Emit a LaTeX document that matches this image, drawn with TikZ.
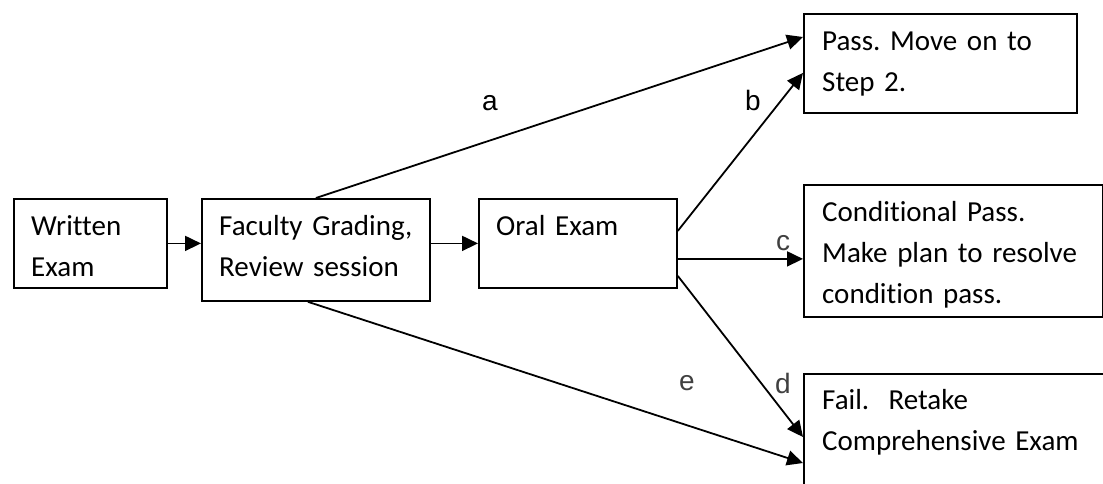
\documentclass[tikz,border=0pt]{standalone}
\usepackage{fontspec}
\setmainfont[Ligatures=NoCommon]{Carlito}
\newfontfamily\labelfont{Liberation Sans}
\usetikzlibrary{arrows.meta}
\definecolor{labgray}{HTML}{404040}
\frenchspacing
\tikzset{
  box/.style={draw, line width=1.8pt, anchor=north west, inner sep=0pt},
  boxtext/.style={anchor=base west, inner sep=0pt, text width=300pt, align=left,
    font=\fontsize{29}{41}\selectfont},
  flow/.style={-{Triangle[length=16pt,width=15pt]}, line width=1.8pt},
  lab/.style={font=\labelfont\fontsize{28}{32}\selectfont},
  labg/.style={lab, text=labgray}
}

\begin{document}
\begin{tikzpicture}[x=1pt, y=-1pt]
  \useasboundingbox (0,0) rectangle (1103,483);

  % boxes
  \node[box, minimum width=153pt, minimum height=89pt] (written) at (13,198) {};
  \node[box, minimum width=228pt, minimum height=102pt] (faculty) at (201,198) {};
  \node[box, minimum width=198pt, minimum height=89pt] (oral) at (478,198) {};
  \node[box, minimum width=273pt, minimum height=99pt] (pass) at (803,13) {};
  \node[box, minimum width=299pt, minimum height=132pt] (cond) at (803,184) {};
  \node[box, minimum width=320pt, minimum height=140pt] (fail) at (803,373) {};

  % box texts
  \node[boxtext] (writtentxt) at ([shift={(18pt,-37pt)}]written.north west) {Written\\Exam};
  \node[boxtext] (facultytxt) at ([shift={(18pt,-37pt)}]faculty.north west) {Faculty Grading,\\Review session};
  \node[boxtext] (oraltxt) at ([shift={(18pt,-37pt)}]oral.north west) {Oral Exam};
  \node[boxtext] (passtxt) at ([shift={(19pt,-37pt)}]pass.north west) {Pass. Move on to\\Step 2.};
  \node[boxtext] (condtxt) at ([shift={(19pt,-37pt)}]cond.north west) {Conditional Pass.\\Make plan to resolve\\condition pass.};
  \node[boxtext] (failtxt) at ([shift={(19pt,-36pt)}]fail.north west) {Fail.\ \ Retake\\Comprehensive Exam};

  % connectors
  \draw[flow] (written.east) -- (written.east -| faculty.west);
  \draw[flow] (faculty.east |- oral.west) -- (oral.west);
  \draw[flow] (faculty.north) -- ([yshift=-24pt]pass.north west);
  \draw[flow] ([yshift=12.5pt]oral.east) -- ([yshift=-9.5pt]pass.west);
  \draw[flow] ([yshift=-15.5pt]oral.east) -- ([yshift=-8pt]cond.west);
  \draw[flow] ([yshift=-32.5pt]oral.east) -- ([yshift=-64pt]fail.north west);
  \draw[flow] ([xshift=-8pt]faculty.south) -- ([yshift=-90pt]fail.north west);

  % labels
  \node[lab] (la) at (490,103) {a};
  \node[lab] (lb) at (753,100) {b};
  \node[labg] (lc) at (783,243) {c};
  \node[labg] (ld) at (783,383) {d};
  \node[labg] (le) at (687,383) {e};
\end{tikzpicture}
\end{document}
